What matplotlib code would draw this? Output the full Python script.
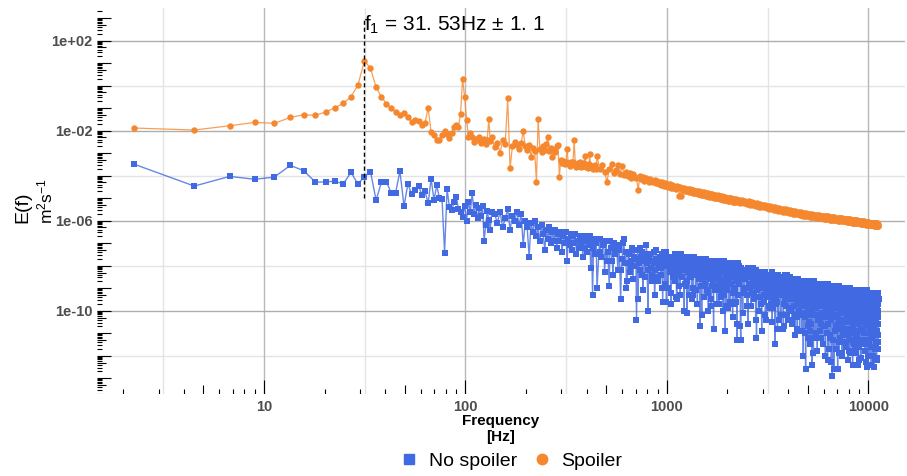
import numpy as np
import matplotlib
matplotlib.use('Agg')
import matplotlib.pyplot as plt
from matplotlib.lines import Line2D
from matplotlib.collections import LineCollection
import matplotlib.transforms as mtransforms
from matplotlib.ticker import FixedLocator, NullFormatter

plt.rcParams['font.family'] = ['Liberation Sans', 'DejaVu Sans']
plt.rcParams['mathtext.fontset'] = 'custom'
plt.rcParams['mathtext.rm'] = 'Liberation Sans'
plt.rcParams['mathtext.it'] = 'Liberation Sans'
plt.rcParams['mathtext.bf'] = 'Liberation Sans:bold'

# ---------------- data ----------------
F1 = 31.53            # peak frequency [Hz]
F1_ERR = 1.1
DF = F1 / 14          # frequency resolution [Hz]

series_names = ["No spoiler", "Spoiler"]

# frequency bins of each block of values: (first bin, bin step)
nosp_bins = [(1, 1), (62, 2), (206, 4), (1010, 8), (208, 8), (1014, 16)]
sp_bins = [(1, 1), (62, 2), (206, 6), (1010, 20)]

# log10 E(f) -- No spoiler
nosp_1 = [-3.48, -4.46, -4.03, -4.16, -4.06, -3.54, -3.78, -4.29, -4.27, -4.25,
          -4.36, -3.85, -4.37, -4.04, -3.82, -5.09, -4.29, -4.27, -4.76, -4.76,
          -3.79, -5.35, -4.37, -4.80, -4.65, -4.44, -4.86, -4.70, -5.23, -4.13,
          -5.08, -4.43, -5.00, -5.05, -7.42, -4.59, -5.40, -5.52, -5.18, -4.93,
          -5.48, -5.60, -5.82, -5.33, -6.00, -5.15, -5.60, -4.76, -5.70, -5.30,
          -5.90, -5.45, -5.80, -5.35, -6.90, -6.20, -5.55, -5.95, -6.40, -5.60]
nosp_2 = [-5.7, -6.1, -5.6, -6.3, -5.9, -5.5, -6.4, -5.8, -6.0, -5.6,
          -6.2, -5.7, -7.1, -6.0, -6.3, -7.6, -6.1, -6.5, -6.0, -6.7,
          -6.3, -6.9, -6.2, -6.6, -7.3, -6.4, -6.8, -6.3, -7.0, -6.5,
          -6.9, -6.4, -7.2, -6.6, -6.9, -6.5, -7.4, -6.7, -7.0, -6.5,
          -7.8, -6.8, -7.1, -6.6, -7.3, -6.7, -7.0, -6.6, -7.5, -6.9,
          -7.2, -6.7, -7.0, -6.8, -7.6, -6.9, -7.2, -6.7, -7.4, -6.9,
          -7.1, -6.7, -8.1, -7.0, -9.3, -7.2, -6.8, -7.5, -7.0, -9.0]
nosp_3 = [-6.8, -7.6, -7.1, -8.3, -6.9, -7.4, -8.9, -7.2, -7.8, -7.0,
          -7.5, -7.1, -8.2, -7.3, -9.5, -7.7, -7.0, -7.9, -7.4, -8.7,
          -7.4, -8.3, -7.8, -7.2, -8.6, -7.6, -8.0, -10.4, -7.3, -7.9,
          -8.2, -7.6, -7.4, -9.1, -7.8, -8.5, -7.5, -7.9, -10.0, -7.7,
          -7.5, -8.1, -8.7, -7.8, -7.4, -9.3, -8.2, -7.7, -8.5, -7.9,
          -8.0, -7.6, -8.4, -7.5, -9.0, -7.9, -7.7, -8.8, -7.4, -9.6,
          -7.8, -9.0, -7.6, -8.3, -7.9, -9.7, -7.7, -8.5, -8.1, -7.6,
          -8.7, -7.5, -8.0, -9.5, -7.8, -8.2, -8.4, -7.7, -9.3, -7.9,
          -8.0, -8.5, -7.8, -8.2, -10.0, -7.7, -8.9, -8.1, -7.6, -8.7,
          -7.7, -8.1, -9.3, -7.9, -8.4, -7.8, -9.5, -8.3, -9.0, -7.6,
          -7.6, -8.4, -7.9, -9.1, -7.7, -8.2, -9.7, -8.0, -8.6, -7.8,
          -8.2, -7.8, -8.9, -8.0, -10.2, -8.4, -7.7, -8.6, -8.1, -9.4,
          -7.9, -8.8, -8.3, -7.7, -9.1, -8.1, -8.5, -10.0, -7.8, -8.4,
          -8.6, -8.0, -7.8, -9.5, -8.2, -8.9, -7.9, -8.3, -10.8, -8.1,
          -7.9, -8.5, -9.1, -8.2, -7.8, -9.7, -8.6, -8.1, -8.9, -8.3,
          -8.4, -8.0, -8.8, -7.9, -9.4, -8.3, -8.1, -9.2, -7.8, -10.0,
          -8.1, -9.3, -7.9, -8.6, -8.2, -10.9, -8.0, -8.8, -8.4, -7.9,
          -9.1, -7.9, -8.4, -9.9, -8.2, -8.6, -8.8, -8.1, -9.7, -8.3,
          -8.3, -8.8, -8.1, -8.5, -10.3, -8.0, -9.2, -8.4, -7.9, -9.0,
          -8.0, -8.4, -9.6, -8.2, -8.7, -8.1, -11.3, -8.6, -9.3, -7.9]
nosp_4 = [-8.0, -8.8, -8.3, -11.3, -8.1, -8.6, -10.1, -8.4, -9.0, -8.2,
          -8.6, -8.2, -9.3, -8.4, -10.6, -8.8, -8.1, -9.0, -8.5, -9.8,
          -8.3, -9.2, -8.7, -8.1, -9.5, -8.5, -8.9, -10.4, -8.2, -8.8,
          -9.1, -8.5, -8.3, -10.0, -8.7, -9.4, -8.4, -8.8, -10.9, -8.6,
          -8.4, -9.0, -9.6, -8.7, -8.3, -10.2, -9.1, -8.6, -9.4, -8.8,
          -8.9, -8.5, -9.3, -8.4, -9.9, -8.8, -8.6, -9.7, -8.3, -10.5,
          -8.7, -9.9, -8.5, -9.2, -8.8, -11.5, -8.6, -9.4, -9.0, -8.5,
          -9.6, -8.4, -8.9, -10.4, -8.7, -9.1, -9.3, -8.6, -10.2, -8.8,
          -8.8, -9.3, -8.6, -9.0, -10.8, -8.5, -9.7, -8.9, -8.4, -9.5,
          -8.6, -9.0, -10.2, -8.8, -9.3, -8.7, -10.4, -9.2, -9.9, -8.5,
          -8.5, -9.3, -8.8, -10.0, -8.6, -9.1, -10.6, -8.9, -9.5, -8.7,
          -9.1, -8.7, -9.8, -8.9, -11.1, -9.3, -8.6, -9.5, -9.0, -10.3,
          -8.8, -9.7, -9.2, -8.6, -10.0, -9.0, -9.4, -10.9, -8.7, -9.3,
          -9.8, -9.0, -8.8, -10.9, -9.3, -10.1, -8.9, -9.4, -12.0, -9.1,
          -8.8, -9.6, -10.3, -9.2, -8.7, -12.6, -9.7, -9.1, -10.1, -9.3,
          -9.5, -9.0, -9.9, -8.8, -10.7, -9.3, -9.1, -10.5, -8.7, -11.5,
          -9.1, -10.6, -8.9, -9.7, -9.2, -12.4, -9.0, -10.0, -9.5, -8.9,
          -10.2, -8.7, -9.4, -11.2, -9.1, -9.6, -9.9, -9.0, -11.0, -9.2,
          -9.3, -9.9, -9.1, -9.6, -11.8, -8.9, -10.4, -9.4, -8.8, -10.2,
          -8.9, -9.4, -10.9, -9.2, -9.8, -9.1, -11.2, -9.7, -10.6, -8.8,
          -8.8, -9.8, -9.2, -10.7, -9.0, -9.6, -11.5, -9.3, -10.1, -9.1,
          -9.5, -9.0, -10.3, -9.2, -12.0, -9.7, -8.8, -10.0, -9.3, -11.0,
          -9.1, -10.2, -9.6, -8.8, -10.6, -9.3, -9.8, -11.7, -9.0, -9.7,
          -10.0, -9.3, -9.0, -11.2, -9.5, -10.4, -9.2, -9.7, -12.3, -9.4,
          -9.0, -9.8, -12.9, -9.4, -8.9, -11.3, -9.9, -9.3, -10.3, -9.5,
          -9.7, -9.2, -10.2, -9.1, -10.9, -9.6, -9.3, -10.7, -8.9, -11.7,
          -9.3, -10.8, -9.1, -9.9, -9.4, -12.6, -9.2, -10.2, -9.7, -9.0,
          -10.4, -8.9, -9.6, -11.4, -9.3, -9.8, -10.1, -9.2, -11.2, -9.4,
          -9.5, -10.1, -9.3, -9.8, -12.0, -9.1, -10.6, -9.6, -9.0, -10.4,
          -9.1, -9.6, -11.1, -9.4, -10.0, -9.3, -11.4, -9.9, -10.8, -9.0,
          -9.0, -10.0, -9.4, -10.9, -9.1, -9.8, -11.6, -9.5, -10.3, -9.3,
          -9.7, -9.2, -10.5, -9.4, -12.2, -9.9, -9.0, -10.2, -9.5, -11.2,
          -9.3, -10.4, -9.8, -9.0, -10.8, -9.5, -10.0, -11.9, -9.2, -9.9,
          -10.2, -9.4, -9.2, -11.3, -9.7, -10.5, -9.3, -9.8, -12.4, -9.5,
          -9.2, -10.0, -10.7, -9.6, -9.1, -11.5, -10.1, -9.5, -10.5, -9.7,
          -9.9, -9.4, -10.4, -9.2, -11.1, -9.7, -9.5, -10.9, -9.1, -11.9,
          -9.5, -11.0, -9.2, -10.1, -9.6, -12.4, -9.4, -10.4, -9.9, -9.2,
          -10.6, -9.1, -9.7, -11.6, -9.5, -10.0, -10.2, -9.4, -11.4, -9.6,
          -9.6, -10.3, -9.4, -9.9, -12.1, -9.3, -10.8, -9.8, -9.1, -10.5,
          -9.3, -9.8, -11.3, -9.5, -10.1, -9.4, -11.5, -10.0, -10.9, -9.1,
          -9.1, -10.1, -9.5, -11.0, -9.3, -9.9, -11.8, -9.6, -10.4, -9.4,
          -9.8, -9.3, -10.7, -9.6, -12.3, -10.1, -9.2, -10.3, -9.7, -11.3,
          -9.5, -10.6, -10.0, -9.2, -11.0, -9.7, -10.2, -12.0, -9.3, -10.1,
          -10.3, -9.6, -9.3, -11.5, -9.8, -10.7, -9.5, -10.0, -12.0, -9.7,
          -9.3, -10.1, -10.8, -9.7, -9.2, -11.6, -10.2, -9.6, -10.6, -9.8,
          -10.0, -9.5, -10.5, -9.3, -11.2, -9.8, -9.6, -11.0, -9.2, -12.0,
          -9.6, -11.1, -9.4, -10.2, -9.7, -12.5, -9.5, -10.5, -10.0, -9.4,
          -10.7, -9.2, -9.9, -11.7, -9.6, -10.1, -10.4, -9.5, -11.5, -9.7,
          -9.7, -10.4, -9.5, -10.0, -12.2, -9.4, -10.9, -9.9, -9.2, -10.6,
          -9.4, -9.9, -11.4, -9.7, -10.3, -9.6, -11.7, -10.2, -11.1]
nosp_3b = [-7.4, -7.0, -7.8, -6.9, -8.4, -7.3, -7.1, -8.2, -6.8, -9.0,
           -7.5, -8.0, -7.3, -7.7, -9.5, -7.2, -8.4, -7.6, -7.1, -8.2,
           -7.5, -8.4, -7.9, -7.3, -8.7, -7.7, -8.1, -9.6, -7.4, -8.0,
           -7.6, -8.0, -9.2, -7.8, -8.3, -7.7, -9.4, -8.2, -8.9, -7.5,
           -8.1, -7.7, -8.8, -7.9, -10.1, -8.3, -7.6, -8.5, -8.0, -9.3,
           -7.9, -9.1, -7.7, -8.4, -8.0, -10.7, -7.8, -8.6, -8.2, -7.7,
           -7.7, -8.5, -8.0, -9.2, -7.8, -8.3, -9.8, -8.1, -8.7, -7.9,
           -7.9, -8.5, -9.1, -8.2, -7.8, -9.7, -8.6, -8.1, -8.9, -8.3,
           -9.0, -7.8, -8.3, -9.8, -8.1, -8.5, -8.7, -8.0, -9.6, -8.2,
           -8.8, -8.2, -8.0, -9.7, -8.4, -9.1, -8.1, -8.5, -10.6, -8.3]
nosp_4b = [-8.4, -10.7, -8.6, -8.2, -9.2, -8.5, -9.8, -8.1, -8.3, -8.9,
           -8.3, -8.8, -9.2, -8.4, -11.2, -8.6, -9.0, -8.3, -9.7, -8.5,
           -8.5, -9.3, -8.7, -10.4, -8.9, -8.4, -9.8, -8.6, -9.1, -8.3,
           -9.5, -8.4, -8.9, -9.7, -8.5, -10.8, -9.0, -8.6, -9.3, -8.8,
           -9.1, -8.5, -10.7, -9.2, -8.8, -9.8, -8.4, -9.0, -9.5, -8.6,
           -8.5, -9.9, -9.2, -10.4, -8.7, -9.3, -8.8, -10.2, -9.0, -8.6,
           -10.8, -8.6, -10.0, -8.9, -9.1, -10.2, -8.7, -9.6, -8.8, -9.2,
           -9.2, -11.0, -9.0, -9.8, -9.6, -9.1, -11.2, -9.3, -8.7, -10.2,
           -10.9, -9.2, -9.9, -8.7, -9.6, -11.9, -9.1, -10.2, -8.9, -9.4,
           -9.4, -10.2, -9.2, -9.8, -11.2, -8.8, -9.3, -10.4, -9.7, -8.9,
           -9.1, -10.1, -9.3, -11.5, -9.6, -9.0, -10.7, -9.2, -9.8, -8.8,
           -9.3, -12.2, -9.6, -9.1, -10.3, -9.5, -11.1, -9.0, -9.2, -10.0,
           -9.0, -9.7, -10.2, -9.2, -12.6, -9.4, -9.9, -9.0, -10.8, -9.3,
           -10.3, -8.9, -9.6, -10.6, -9.1, -11.9, -9.7, -9.2, -10.1, -9.4,
           -9.9, -9.1, -11.9, -10.0, -9.5, -10.8, -9.0, -9.8, -10.4, -9.3,
           -9.0, -10.8, -9.9, -11.4, -9.3, -10.0, -9.4, -11.1, -9.6, -9.1,
           -11.8, -9.0, -10.8, -9.4, -9.7, -11.0, -9.2, -10.3, -9.3, -9.8,
           -9.6, -11.4, -9.4, -10.2, -10.0, -9.5, -11.6, -9.7, -9.1, -10.6,
           -11.2, -9.6, -10.2, -9.1, -10.0, -12.2, -9.5, -10.6, -9.2, -9.7,
           -9.8, -10.5, -9.5, -10.1, -11.5, -9.1, -9.6, -10.8, -10.0, -9.3,
           -9.4, -10.4, -9.6, -11.8, -9.9, -9.3, -11.0, -9.5, -10.1, -9.1,
           -9.7, -12.5, -10.0, -9.5, -10.7, -9.8, -11.5, -9.3, -9.6, -10.3,
           -9.3, -10.0, -10.5, -9.5, -12.4, -9.7, -10.2, -9.3, -11.1, -9.6,
           -10.6, -9.2, -9.9, -10.9, -9.4, -12.2, -10.0, -9.5, -10.4, -9.7,
           -10.1, -9.4, -12.1, -10.2, -9.7, -11.0, -9.2, -10.0, -10.6, -9.5]

# log10 E(f) -- Spoiler
sp_1 = [-1.88, -1.97, -1.78, -1.63, -1.67, -1.41, -1.29, -1.32, -1.16, -0.98,
        -0.78, -0.50, 0.03, 1.11, 0.77, -0.07, -0.49, -0.81, -0.99, -1.16,
        -1.29, -1.21, -1.38, -1.60, -1.54, -1.58, -1.73, -1.64, -1.00, -2.07,
        -2.18, -2.41, -2.40, -2.19, -2.03, -2.15, -2.34, -2.10, -1.85, -1.75,
        -1.85, -1.26, 0.31, -0.49, -1.52, -2.27, -2.12, -2.27, -2.49, -2.35,
        -2.42, -2.30, -2.55, -2.45, -2.38, -2.60, -2.40, -1.49, -2.45, -2.27]
sp_2 = [-2.74, -2.55, -2.98, -2.41, -2.60, -0.56, -3.67, -2.70, -2.49, -2.62,
        -2.80, -2.55, -2.01, -2.70, -2.86, -2.65, -3.16, -2.75, -2.90, -4.27,
        -1.49, -2.80, -2.95, -2.70, -2.85, -2.60, -2.27, -2.90, -2.75, -3.16,
        -2.85, -2.95, -2.70, -2.64, -4.04, -3.30, -3.45, -3.35, -3.50, -3.40,
        -2.83, -3.45, -3.55, -3.40, -3.50, -3.38, -2.41, -3.48, -3.60, -3.45,
        -3.55, -3.40, -3.62, -3.50, -3.58, -3.45, -3.12, -3.60, -3.52, -3.65,
        -3.48, -3.05, -3.62, -3.55, -3.70, -3.58, -3.66, -3.52, -3.72, -3.12]
sp_3 = [-3.70, -3.53, -3.84, -4.27, -3.70, -3.50, -3.88, -3.76, -3.52, -3.92,
        -3.55, -3.97, -3.84, -4.02, -3.90, -4.08, -3.93, -4.05, -4.10, -4.64,
        -4.02, -4.16, -4.05, -4.22, -4.10, -4.20, -4.26, -4.13, -4.25, -4.30,
        -4.20, -4.34, -4.25, -4.39, -4.28, -4.41, -4.30, -4.44, -4.33, -4.47,
        -4.36, -4.50, -4.39, -4.54, -4.41, -4.55, -4.44, -4.52, -4.58, -4.46,
        -4.49, -4.90, -4.52, -4.88, -4.54, -4.65, -4.55, -4.68, -4.57, -4.69,
        -4.58, -4.71, -4.61, -4.74, -4.62, -4.77, -4.64, -4.76, -4.66, -4.78,
        -4.67, -4.80, -4.69, -4.83, -4.71, -4.85, -4.73, -4.84, -4.87, -4.74,
        -4.76, -4.89, -4.78, -4.91, -4.79, -4.93, -4.81, -4.92, -4.80, -4.94,
        -4.83, -4.96, -4.85, -4.98, -4.86, -5.00, -4.88, -4.99, -4.87, -5.01,
        -4.89, -5.02, -4.91, -5.04, -4.92, -5.05, -4.93, -5.06, -4.94, -5.07,
        -4.95, -5.08, -4.97, -5.10, -4.98, -5.11, -4.99, -5.12, -5.00, -5.13,
        -5.00, -5.13, -5.02, -5.15, -5.03, -5.16, -5.04, -5.17, -5.05, -5.14,
        -5.07, -5.15, -5.08]
sp_4 = [-5.07, -5.20, -5.09, -5.23, -5.12, -5.26, -5.14, -5.28, -5.17, -5.30,
        -5.21, -5.34, -5.23, -5.37, -5.26, -5.40, -5.28, -5.41, -5.31, -5.43,
        -5.33, -5.46, -5.35, -5.49, -5.38, -5.52, -5.40, -5.53, -5.43, -5.55,
        -5.44, -5.57, -5.46, -5.60, -5.48, -5.62, -5.50, -5.63, -5.52, -5.64,
        -5.53, -5.66, -5.55, -5.68, -5.56, -5.70, -5.58, -5.71, -5.60, -5.72,
        -5.61, -5.74, -5.62, -5.76, -5.64, -5.77, -5.65, -5.78, -5.67, -5.79,
        -5.68, -5.80, -5.69, -5.82, -5.70, -5.83, -5.72, -5.84, -5.73, -5.85,
        -5.73, -5.85, -5.74, -5.87, -5.75, -5.88, -5.76, -5.89, -5.77, -5.89,
        -5.77, -5.89, -5.78, -5.91, -5.79, -5.92, -5.80, -5.93, -5.81, -5.93,
        -5.81, -5.93, -5.82, -5.95, -5.83, -5.96, -5.84, -5.97, -5.85, -5.97,
        -5.85, -5.96, -5.86, -5.98, -5.87, -5.99, -5.88, -6.00, -5.88, -6.00,
        -5.88, -5.99, -5.89, -6.01, -5.90, -6.02, -5.91, -6.03, -5.91, -6.03,
        -5.91, -6.02, -5.92, -6.04, -5.93, -6.05, -5.94, -6.06, -5.94, -6.06,
        -5.94, -6.05, -5.95, -6.07, -5.96, -6.08, -5.97, -6.09, -5.97, -6.09,
        -5.97, -6.08, -5.98, -6.10, -5.99, -6.11, -6.00, -6.12, -6.00, -6.12,
        -6.00, -6.11, -6.01, -6.13, -6.02, -6.14, -6.03, -6.15, -6.03, -6.15,
        -6.03, -6.13, -6.04, -6.15, -6.05, -6.16, -6.05, -6.17, -6.06, -6.17,
        -6.06, -6.16, -6.07, -6.18, -6.08, -6.19, -6.08, -6.20, -6.09, -6.20,
        -6.08, -6.18, -6.09, -6.20, -6.10, -6.21, -6.10, -6.22, -6.11, -6.22,
        -6.10, -6.20, -6.11, -6.22, -6.12, -6.23, -6.12, -6.24, -6.13, -6.25]

x_tick_vals = [10, 100, 1000, 10000]
x_tick_labels = ["10", "100", "1000", "10000"]
y_tick_vals = [1e2, 1e-2, 1e-6, 1e-10]
y_tick_labels = ["1e+02", "1e-02", "1e-06", "1e-10"]


def build(seg_bins, segs):
    f, e = [], []
    for (start, step), vals in zip(seg_bins, segs):
        bins = start + step * np.arange(len(vals))
        f.append(bins * DF)
        e.append(10.0 ** np.asarray(vals))
    f, e = np.concatenate(f), np.concatenate(e)
    order = np.argsort(f, kind='stable')
    return f[order], e[order]


f_ns, e_ns = build(nosp_bins, [nosp_1, nosp_2, nosp_3, nosp_4, nosp_3b, nosp_4b])
f_sp, e_sp = build(sp_bins, [sp_1, sp_2, sp_3, sp_4])

BLUE = "#4169E1"
ORANGE = "#F5872E"

# ---------------- figure ----------------
W, H = 907, 476
fig = plt.figure(figsize=(W / 100, H / 100), dpi=100)
L, R, T, B = 97, 905, 8, 394
ax = fig.add_axes([L / W, 1 - B / H, (R - L) / W, (B - T) / H])
ax.set_xscale('log')
ax.set_yscale('log')
ax.set_xlim(10 ** 0.1708, 10 ** 4.1827)
ax.set_ylim(10 ** -13.70, 10 ** 3.453)
for s in ax.spines.values():
    s.set_visible(False)

# grid
xmin = [10 ** 0.5, 10 ** 1.5, 10 ** 2.5, 10 ** 3.5]
ymin = [1e0, 1e-4, 1e-8, 1e-12]
for v in xmin:
    ax.axvline(v, color="#E4E4E4", lw=1.0, zorder=0)
for v in ymin:
    ax.axhline(v, color="#E4E4E4", lw=1.0, zorder=0)
for v in x_tick_vals:
    ax.axvline(v, color="#B8B8B8", lw=1.0, zorder=0)
for v in y_tick_vals:
    ax.axhline(v, color="#AEAEAE", lw=1.0, zorder=0)

ax.set_xticks(x_tick_vals, x_tick_labels)
ax.set_yticks(y_tick_vals, y_tick_labels)
ax.xaxis.set_minor_locator(FixedLocator([]))
ax.yaxis.set_minor_locator(FixedLocator([]))
ax.xaxis.set_minor_formatter(NullFormatter())
ax.yaxis.set_minor_formatter(NullFormatter())
ax.tick_params(axis='both', length=0, labelsize=10.5, labelcolor="#4D4D4D")
ax.tick_params(axis='y', pad=3)
ax.tick_params(axis='x', pad=4)
for lab in ax.get_xticklabels() + ax.get_yticklabels():
    lab.set_fontweight('bold')

# log ticks (inside panel, left and bottom)
pw, ph = R - L, B - T
segs_y, segs_x = [], []
for k in range(-15, 5):
    for m in range(1, 10):
        v = m * 10.0 ** k
        ln = 14 if m == 1 else (9 if m == 5 else 5)
        if ax.get_ylim()[0] <= v <= ax.get_ylim()[1]:
            segs_y.append([(0, v), (ln / pw, v)])
        if ax.get_xlim()[0] <= v <= ax.get_xlim()[1]:
            segs_x.append([(v, 0), (v, ln / ph)])
ax.add_collection(LineCollection(segs_y, colors='black', linewidths=0.8,
                                 transform=mtransforms.blended_transform_factory(ax.transAxes, ax.transData)))
ax.add_collection(LineCollection(segs_x, colors='black', linewidths=0.8,
                                 transform=mtransforms.blended_transform_factory(ax.transData, ax.transAxes)))

# series
ax.plot(f_ns, e_ns, color=BLUE, lw=1.0, alpha=0.8, zorder=2)
ax.plot(f_ns, e_ns, ls='none', marker='s', ms=4.2, mfc=BLUE, mec=BLUE, mew=0, zorder=3)
ax.plot(f_sp, e_sp, color=ORANGE, lw=0.9, alpha=0.8, zorder=2)
ax.plot(f_sp, e_sp, ls='none', marker='o', ms=4.6, mfc=ORANGE, mec=ORANGE, mew=0, zorder=3)

# peak marker and annotation
ax.plot([F1, F1], [1e-5, 1e3], color='black', lw=1.0, ls=(0, (3, 2)), zorder=4)
ax.text(F1, 10 ** 2.44, r"$\mathregular{f_1}$ = %sHz ± %s" % ("31. 53", "1. 1"),
        ha='left', va='baseline', fontsize=15, color='black', zorder=5)

# axis titles
fig.text(23 / W, 1 - 207 / H, "E(f)", rotation=90, fontsize=14, ha='center', va='center')
fig.text(45 / W, 1 - 201 / H, r"$\mathregular{m^2s^{-1}}$", rotation=90, fontsize=12.5,
         ha='center', va='center')
fig.text(501 / W, 1 - 421 / H, "Frequency", fontsize=11, fontweight='bold', ha='center', va='center')
fig.text(501 / W, 1 - 437 / H, "[Hz]", fontsize=11, fontweight='bold', ha='center', va='center')

# legend
handles = [Line2D([], [], ls='none', marker='s', ms=7.5, mfc=BLUE, mec=BLUE),
           Line2D([], [], ls='none', marker='o', ms=7.5, mfc=ORANGE, mec=ORANGE)]
fig.legend(handles, series_names, loc='center', bbox_to_anchor=(512 / W, 1 - 461 / H),
           ncol=2, frameon=False, fontsize=14, handlelength=0.8, handletextpad=0.6,
           columnspacing=0.9, borderpad=0.1)

fig.savefig("out.png", dpi=100)
